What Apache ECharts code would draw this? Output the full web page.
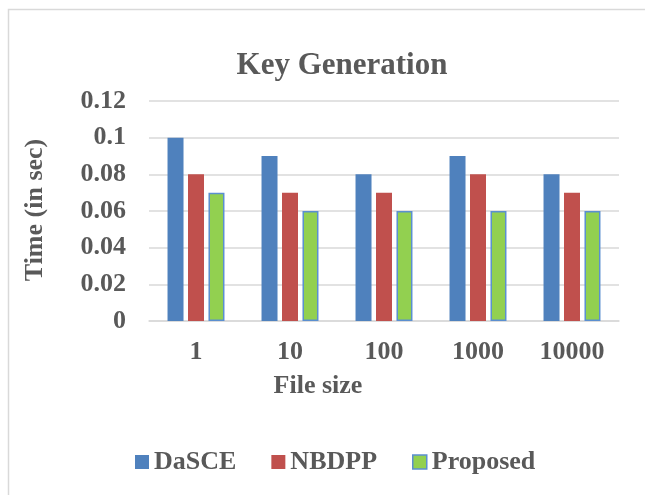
<!DOCTYPE html>
<html>
<head>
<meta charset="utf-8">
<script src="https://cdn.jsdelivr.net/npm/echarts@6/dist/echarts.min.js"></script>
<style>html,body{margin:0;padding:0;background:#fff}#c{width:645px;height:495px}</style>
</head>
<body>
<div id="c"></div>
<script>
var categories = ['1', '10', '100', '1000', '10000'];
var dasce = [0.1, 0.09, 0.08, 0.09, 0.08];
var nbdpp = [0.08, 0.07, 0.07, 0.08, 0.07];
var proposed = [0.07, 0.06, 0.06, 0.06, 0.06];
var seriesNames = ['DaSCE', 'NBDPP', 'Proposed'];

var FONT = '"Liberation Serif", "Times New Roman", serif';
var TXT = '#595959';
var chart = echarts.init(document.getElementById('c'), null, {renderer: 'canvas'});
chart.setOption({
  animation: false,
  backgroundColor: '#fff',
  graphic: [
    {type: 'rect', shape: {x: 8.5, y: 9.5, width: 700, height: 600}, style: {fill: 'none', stroke: '#D9D9D9', lineWidth: 1.5}, silent: true},
    {type: 'text', x: 342, y: 66, style: {text: 'Key Generation', font: 'bold 31px ' + FONT, fill: TXT, align: 'center', verticalAlign: 'middle'}},
    {type: 'text', x: 35, y: 210, rotation: Math.PI / 2, style: {text: 'Time (in sec)', font: 'bold 26px ' + FONT, fill: TXT, align: 'center', verticalAlign: 'middle'}},
    {type: 'text', x: 318, y: 386, style: {text: 'File size', font: 'bold 26px ' + FONT, fill: TXT, align: 'center', verticalAlign: 'middle'}}
  ],
  grid: {left: 149, right: 26, top: 101, bottom: 174, containLabel: false},
  legend: {
    data: [
      {name: seriesNames[0]},
      {name: seriesNames[1]},
      {name: seriesNames[2], itemStyle: {borderColor: '#5B8FD0', borderWidth: 1.5}}
    ],
    left: 130, top: 444,
    itemWidth: 14, itemHeight: 14, itemGap: 35,
    icon: 'rect',
    textStyle: {fontFamily: FONT, fontWeight: 'bold', fontSize: 26, color: TXT}
  },
  xAxis: {
    type: 'category',
    data: categories,
    axisLine: {show: true, lineStyle: {color: '#D9D9D9', width: 1.5}},
    axisTick: {show: false},
    axisLabel: {fontFamily: FONT, fontWeight: 'bold', fontSize: 26, color: TXT, margin: 18}
  },
  yAxis: {
    type: 'value',
    min: 0, max: 0.12, interval: 0.02,
    axisLine: {show: false},
    axisTick: {show: false},
    splitLine: {lineStyle: {color: '#D9D9D9', width: 1.5}},
    axisLabel: {fontFamily: FONT, fontWeight: 'bold', fontSize: 26, color: TXT, margin: 23,
      formatter: function (v) { return String(Math.round(v * 100) / 100); }}
  },
  series: [
    {name: seriesNames[0], type: 'bar', data: dasce, barWidth: 16, barGap: '28%', itemStyle: {color: '#4F81BD'}},
    {name: seriesNames[1], type: 'bar', data: nbdpp, barWidth: 16, barGap: '28%', itemStyle: {color: '#C0504D'}},
    {name: seriesNames[2], type: 'bar', data: proposed, barWidth: 16, barGap: '28%', itemStyle: {color: '#92D050', borderColor: '#5B8FD0', borderWidth: 1.5}}
  ]
});
</script>
</body>
</html>
